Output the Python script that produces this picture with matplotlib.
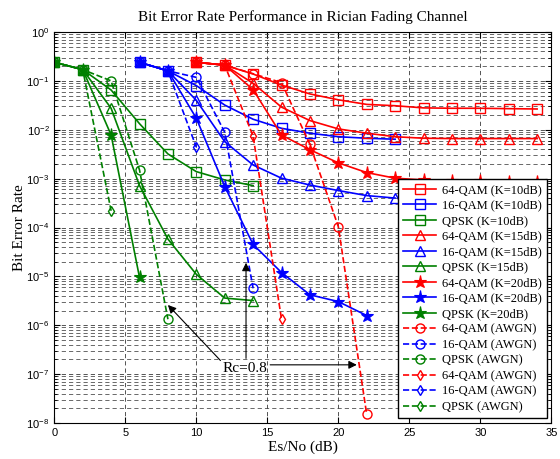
import matplotlib
matplotlib.use("Agg")
import matplotlib.pyplot as plt
from matplotlib.ticker import LogLocator, NullFormatter

# ---- data ----
snr_qpsk = [0, 2, 4, 6, 8, 10, 12, 14]
qpsk_k10 = [0.24, 0.17, 0.065, 0.0133, 0.0032, 0.00139, 0.00094, 0.00072]
qpsk_k15 = [0.24, 0.17, 0.0275, 0.00072, 5.8e-5, 1.1e-5, 3.6e-6, 3.2e-6]
snr_qpsk_k20 = [0, 2, 4, 6]
qpsk_k20 = [0.24, 0.17, 0.0078, 9.5e-6]
snr_qpsk_awgn_c = [0, 2, 4, 6, 8]
qpsk_awgn_c = [0.24, 0.17, 0.1, 0.0015, 1.33e-6]
snr_qpsk_awgn_d = [0, 2, 4]
qpsk_awgn_d = [0.24, 0.17, 2.2e-4]

snr_16 = [6, 8, 10, 12, 14, 16, 18, 20, 22, 24]
qam16_k10 = [0.24, 0.16, 0.08, 0.032, 0.0164, 0.0107, 0.0085, 0.0072, 0.0067, 0.0064]
qam16_k15 = [0.24, 0.16, 0.04, 0.0057, 0.0019, 0.00102, 0.00074, 0.00057, 0.00045, 0.0004]
snr_16_k20 = [6, 8, 10, 12, 14, 16, 18, 20, 22]
qam16_k20 = [0.24, 0.16, 0.0172, 0.00069, 4.5e-5, 1.2e-5, 4.2e-6, 3.05e-6, 1.58e-6]
snr_16_awgn_c = [6, 8, 10, 12, 14]
qam16_awgn_c = [0.24, 0.16, 0.118, 0.0089, 5.7e-6]
snr_16_awgn_d = [6, 8, 10]
qam16_awgn_d = [0.24, 0.16, 0.0044]

snr_64 = [10, 12, 14, 16, 18, 20, 22, 24, 26, 28, 30, 32, 34]
qam64_k10 = [0.24, 0.21, 0.138, 0.082, 0.054, 0.041, 0.033, 0.031, 0.028, 0.0275, 0.0275, 0.027, 0.0266]
qam64_k15 = [0.24, 0.21, 0.089, 0.029, 0.0154, 0.0104, 0.0085, 0.0072, 0.0067, 0.0066, 0.0066, 0.0066, 0.0066]
qam64_k20 = [0.24, 0.21, 0.066, 0.0078, 0.0039, 0.0021, 0.00133, 0.00102, 0.00094, 0.0009, 0.00088, 0.00087, 0.00087]
snr_64_awgn_c = [10, 12, 14, 16, 18, 20, 22]
qam64_awgn_c = [0.24, 0.21, 0.14, 0.092, 0.005, 1.04e-4, 1.5e-8]
snr_64_awgn_d = [10, 12, 14, 16]
qam64_awgn_d = [0.24, 0.21, 0.0074, 1.33e-6]

RED, BLUE, GREEN = "#ff0000", "#0000ff", "#008000"


def run():
    plt.rcParams["font.family"] = ["Liberation Serif", "DejaVu Serif"]
    fig = plt.figure(figsize=(5.6, 4.59), dpi=100)
    ax = fig.add_axes([0.097, 0.0784, 0.8875, 0.8519])

    lw = 1.2
    ms = 6.5
    open_kw = dict(lw=lw, ms=ms, mfc="none", mew=1.0)
    star_kw = dict(lw=lw, ms=9.5, mew=0.8)

    ax.plot(snr_64, qam64_k10, "-s", color=RED, label="64-QAM (K=10dB)", **open_kw)
    ax.plot(snr_16, qam16_k10, "-s", color=BLUE, label="16-QAM (K=10dB)", **open_kw)
    ax.plot(snr_qpsk, qpsk_k10, "-s", color=GREEN, label="QPSK (K=10dB)", **open_kw)
    ax.plot(snr_64, qam64_k15, "-^", color=RED, label="64-QAM (K=15dB)", **open_kw)
    ax.plot(snr_16, qam16_k15, "-^", color=BLUE, label="16-QAM (K=15dB)", **open_kw)
    ax.plot(snr_qpsk, qpsk_k15, "-^", color=GREEN, label="QPSK (K=15dB)", **open_kw)
    ax.plot(snr_64, qam64_k20, "-*", color=RED, label="64-QAM (K=20dB)", **star_kw)
    ax.plot(snr_16_k20, qam16_k20, "-*", color=BLUE, label="16-QAM (K=20dB)", **star_kw)
    ax.plot(snr_qpsk_k20, qpsk_k20, "-*", color=GREEN, label="QPSK (K=20dB)", **star_kw)
    ax.plot(snr_64_awgn_c, qam64_awgn_c, "--o", color=RED, label="64-QAM (AWGN)", **open_kw)
    ax.plot(snr_16_awgn_c, qam16_awgn_c, "--o", color=BLUE, label="16-QAM (AWGN)", **open_kw)
    ax.plot(snr_qpsk_awgn_c, qpsk_awgn_c, "--o", color=GREEN, label="QPSK (AWGN)", **open_kw)
    dkw = dict(open_kw, ms=5.5)
    ax.plot(snr_64_awgn_d, qam64_awgn_d, "--d", color=RED, label="64-QAM (AWGN)", **dkw)
    ax.plot(snr_16_awgn_d, qam16_awgn_d, "--d", color=BLUE, label="16-QAM (AWGN)", **dkw)
    ax.plot(snr_qpsk_awgn_d, qpsk_awgn_d, "--d", color=GREEN, label="QPSK (AWGN)", **dkw)

    ax.set_yscale("log")
    ax.set_xlim(0, 35)
    ax.set_ylim(1e-8, 1)
    ax.set_xticks(range(0, 36, 5))
    ax.yaxis.set_major_locator(LogLocator(base=10, numticks=20))
    ax.yaxis.set_minor_locator(LogLocator(base=10, subs=range(2, 10), numticks=100))
    ax.yaxis.set_minor_formatter(NullFormatter())

    dash = (0, (5.5, 4))
    ax.grid(True, which="major", axis="both", color="0.15", lw=0.55, linestyle=dash)
    ax.grid(True, which="minor", axis="y", color="0.25", lw=0.55, linestyle=dash)
    ax.set_axisbelow(True)

    ax.tick_params(which="both", direction="in", top=True, right=True)
    ax.tick_params(which="major", length=4, labelsize=8)
    ax.tick_params(which="minor", length=2)
    for lab in ax.get_xticklabels() + ax.get_yticklabels():
        lab.set_fontfamily(["Liberation Sans", "DejaVu Sans"])

    ax.set_title("Bit Error Rate Performance in Rician Fading Channel", fontsize=11, pad=8)
    ax.set_xlabel("Es/No (dB)", fontsize=11, labelpad=2)
    ax.set_ylabel("Bit Error Rate", fontsize=11, labelpad=0)

    # annotation arrows
    akw = dict(arrowstyle="-|>", color="black", lw=0.8, mutation_scale=12, shrinkA=0, shrinkB=0)
    ax.annotate("", xy=(8.0, 2.6e-6), xytext=(11.7, 1.9e-7), arrowprops=akw)
    ax.annotate("", xy=(13.5, 1.9e-5), xytext=(13.5, 2.1e-7), arrowprops=akw)
    ax.annotate("", xy=(21.3, 1.55e-7), xytext=(15.2, 1.55e-7), arrowprops=akw)
    ax.text(13.4, 1.3e-7, "Rc=0.8", fontsize=11, ha="center", va="center")

    leg = ax.legend(loc="lower right", bbox_to_anchor=(0.991, 0.013), borderaxespad=0,
                    fontsize=9, labelspacing=0.28, handlelength=2.6, handletextpad=0.5,
                    fancybox=False, framealpha=1, edgecolor="black", borderpad=0.4)
    leg.get_frame().set_linewidth(1.0)

    fig.savefig("out.png", dpi=100)


if __name__ == "__main__":
    run()
